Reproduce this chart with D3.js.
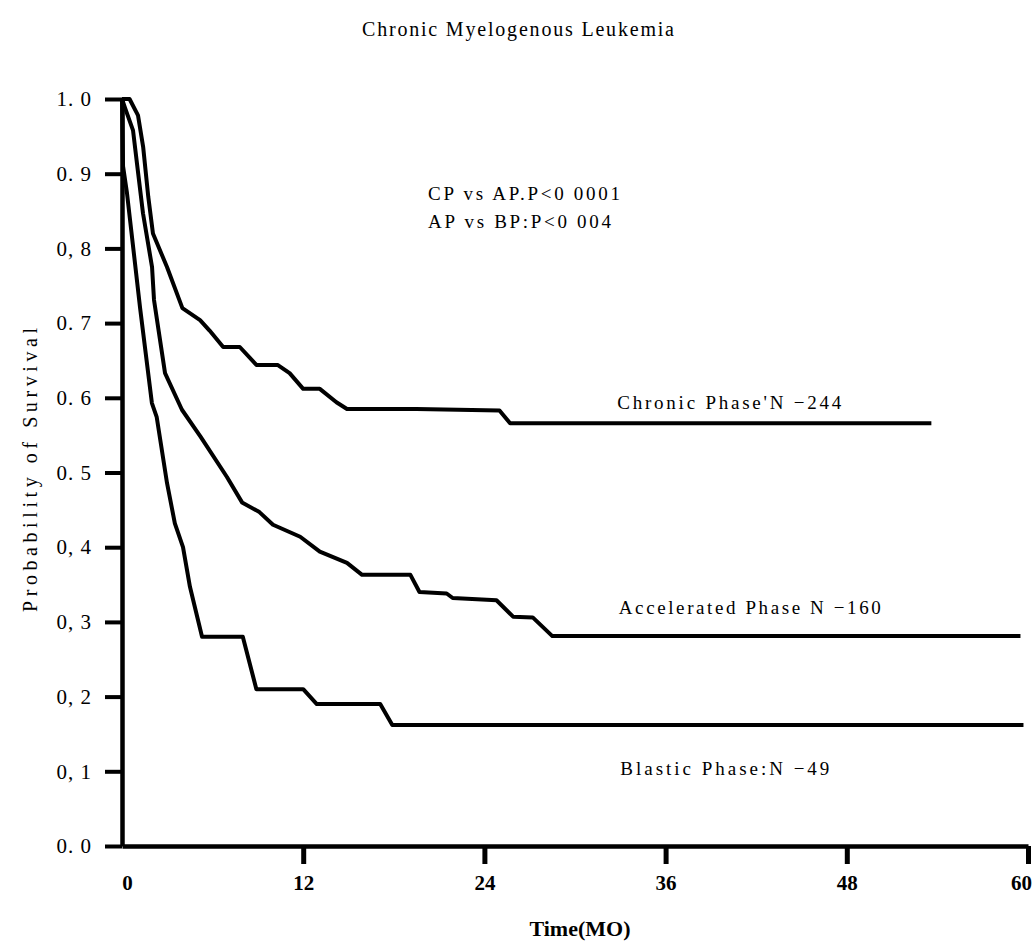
<!DOCTYPE html>
<html>
<head>
<meta charset="utf-8">
<script src="https://cdn.jsdelivr.net/npm/d3@7"></script>
<style>
  body { margin: 0; background: #fff; }
  svg { display: block; font-family: "Liberation Serif", "DejaVu Serif", serif; }
</style>
</head>
<body>
<script>
// DATA  (time in months, probability of survival)
var chronicPhase = [
  [0, 1.0], [0.5, 1.0], [1.06, 0.978], [1.4, 0.936], [1.74, 0.869], [2.05, 0.82],
  [2.98, 0.775], [4.0, 0.72], [5.17, 0.704], [5.8, 0.69], [6.7, 0.668], [7.8, 0.668],
  [8.9, 0.644], [10.3, 0.644], [11.1, 0.633], [12.0, 0.612], [13.1, 0.612],
  [14.2, 0.594], [14.9, 0.585], [19.5, 0.585], [25.0, 0.583], [25.7, 0.566], [53.6, 0.566]
];
var acceleratedPhase = [
  [0, 1.0], [0.2, 0.988], [0.73, 0.958], [0.99, 0.914], [1.39, 0.847], [1.99, 0.775],
  [2.12, 0.731], [2.85, 0.633], [3.97, 0.584], [5.2, 0.548], [6.95, 0.494], [7.95, 0.46],
  [9.1, 0.447], [10.0, 0.43], [11.8, 0.414], [13.1, 0.394], [14.9, 0.379], [15.9, 0.363],
  [19.1, 0.363], [19.7, 0.34], [21.5, 0.338], [21.9, 0.332], [24.8, 0.329], [25.9, 0.307],
  [27.2, 0.306], [28.5, 0.281], [59.5, 0.281]
];
var blasticPhase = [
  [0, 1.0], [0.07, 0.91], [0.33, 0.874], [1.2, 0.72], [1.98, 0.593], [2.3, 0.574],
  [2.98, 0.486], [3.5, 0.432], [4.04, 0.40], [4.5, 0.347], [5.3, 0.28], [8.0, 0.28],
  [8.9, 0.21], [12.0, 0.21], [12.9, 0.19], [17.1, 0.19], [17.9, 0.162], [59.7, 0.162]
];

var xTicks = [0, 12, 24, 36, 48, 60];
var yTicks = [0, 0.1, 0.2, 0.3, 0.4, 0.5, 0.6, 0.7, 0.8, 0.9, 1.0];
var yTickLabels = ["0. 0", "0, 1", "0, 2", "0, 3", "0, 4", "0. 5", "0. 6", "0. 7", "0, 8", "0. 9", "1. 0"];

var curveLabels = [
  {text: "Chronic Phase'N −244", t: 32.8, p: 0.585, len: 224},
  {text: "Accelerated Phase N −160", t: 32.9, p: 0.311, len: 262},
  {text: "Blastic Phase:N −49", t: 33.0, p: 0.095, len: 209}
];
var pValues = ["CP vs AP.P<0 0001", "AP vs BP:P<0 004"];

// D3
var svg = d3.select("body").append("svg")
  .attr("width", 1036)
  .attr("height", 944);

svg.append("rect").attr("width", 1036).attr("height", 944).attr("fill", "#fff");

const xScale = d3.scaleLinear().domain([0, 60]).range([122, 1028]);
const yScale = d3.scaleLinear().domain([0, 1]).range([846, 99]);

// title
svg.append("text")
  .attr("x", 518).attr("y", 36)
  .attr("text-anchor", "middle")
  .attr("font-size", 20)
  .attr("textLength", 312)
  .attr("lengthAdjust", "spacing")
  .text("Chronic Myelogenous Leukemia");

// y axis
const yAxis = svg.append("g")
  .attr("transform", "translate(" + xScale(0) + ",0)")
  .call(d3.axisLeft(yScale).tickValues(yTicks).tickSize(17).tickSizeOuter(0).tickPadding(13)
    .tickFormat((d, i) => yTickLabels[i]));
yAxis.select(".domain").attr("stroke-width", 4.5).attr("stroke", "#000");
yAxis.selectAll(".tick line").attr("stroke-width", 4).attr("stroke", "#000");
yAxis.selectAll(".tick text")
  .attr("font-size", 21).attr("fill", "#000")
  .attr("font-family", "Liberation Serif")
  .attr("letter-spacing", 1);

// x axis
const xAxis = svg.append("g")
  .attr("transform", "translate(0," + yScale(0) + ")")
  .call(d3.axisBottom(xScale).tickValues(xTicks).tickSize(18).tickSizeOuter(0).tickPadding(11));
xAxis.select(".domain").attr("stroke-width", 4.5).attr("stroke", "#000");
xAxis.selectAll(".tick line").attr("stroke-width", 5).attr("stroke", "#000")
  .filter(d => d === 0).remove();
xAxis.selectAll(".tick text")
  .attr("font-size", 21).attr("font-weight", "bold").attr("fill", "#000")
  .attr("font-family", "Liberation Serif")
  .attr("dx", d => d === 0 ? 5 : (d === 60 ? -7 : 0));

// axis titles
svg.append("text")
  .attr("transform", "translate(37,470) rotate(-90)")
  .attr("text-anchor", "middle")
  .attr("font-size", 20)
  .attr("textLength", 284)
  .attr("lengthAdjust", "spacing")
  .text("Probability of Survival");

svg.append("text")
  .attr("x", 580).attr("y", 936)
  .attr("text-anchor", "middle")
  .attr("font-size", 22)
  .attr("font-weight", "bold")
  .text("Time(MO)");

// survival curves
const line = d3.line()
  .x(d => xScale(d[0]))
  .y(d => yScale(d[1]));

svg.selectAll(".curve")
  .data([chronicPhase, acceleratedPhase, blasticPhase])
  .enter()
  .append("path")
  .attr("class", "curve")
  .attr("d", line)
  .attr("fill", "none")
  .attr("stroke", "#000")
  .attr("stroke-width", 4)
  .attr("stroke-linejoin", "round");

// labels
svg.selectAll(".clabel")
  .data(curveLabels)
  .enter()
  .append("text")
  .attr("class", "clabel")
  .attr("x", d => xScale(d.t))
  .attr("y", d => yScale(d.p))
  .attr("font-size", 19)
  .attr("textLength", d => d.len)
  .attr("lengthAdjust", "spacing")
  .text(d => d.text);

svg.selectAll(".pval")
  .data(pValues)
  .enter()
  .append("text")
  .attr("class", "pval")
  .attr("x", 428)
  .attr("y", (d, i) => 200 + i * 28)
  .attr("font-size", 19)
  .attr("textLength", (d, i) => i === 0 ? 192 : 183)
  .attr("lengthAdjust", "spacing")
  .text(d => d);
</script>
</body>
</html>
